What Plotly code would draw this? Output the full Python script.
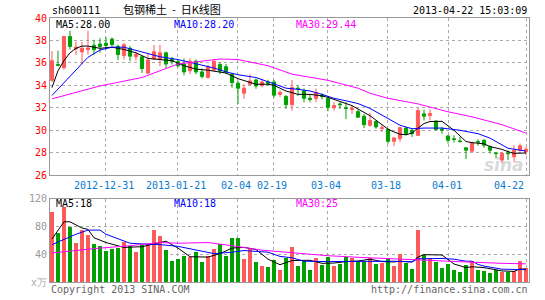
import plotly.graph_objects as go

# ---------------- data ----------------
opens = [34.45, 35.85, 35.57, 38.35, 37.25, 36.98, 37.18, 37.56, 37.68, 37.75,
         38.12, 37.47, 36.65, 37.30, 36.55, 36.54, 35.10, 36.35, 36.36, 36.90,
         36.35, 36.10, 35.90, 35.30, 36.15, 35.20, 34.70, 35.36, 35.86, 35.66,
         34.98, 34.20, 33.31, 34.10, 34.48, 34.00, 34.30, 34.30, 33.20, 33.02,
         32.28, 33.75, 33.50, 32.85, 32.84, 33.13, 32.84, 32.00, 32.35, 32.00,
         31.85, 31.66, 31.25, 30.45, 30.78, 30.15, 30.08, 29.02, 29.26, 30.20,
         29.99, 29.55, 31.46, 31.31, 30.82, 30.10, 29.50, 29.25, 29.05, 28.44,
         28.14, 29.00, 29.11, 28.53, 27.98, 27.35, 27.98, 27.65, 28.23, 28.09]
highs = [37.05, 37.10, 38.40, 38.86, 37.90, 37.86, 38.86, 38.06, 38.20, 38.30,
         38.27, 37.62, 37.77, 37.50, 37.00, 36.60, 36.90, 37.60, 37.60, 37.00,
         36.55, 36.30, 36.40, 36.40, 36.30, 35.50, 35.80, 36.35, 36.07, 35.90,
         35.10, 34.40, 34.10, 35.00, 34.60, 34.60, 34.50, 34.50, 33.55, 33.13,
         34.48, 34.00, 33.72, 33.20, 33.72, 33.30, 32.93, 32.50, 32.50, 32.50,
         32.20, 31.85, 31.46, 31.55, 30.87, 30.50, 30.14, 29.40, 30.29, 30.29,
         30.14, 31.99, 31.84, 31.84, 30.87, 30.29, 29.55, 29.55, 29.40, 28.50,
         28.97, 29.20, 29.20, 28.67, 28.03, 28.09, 28.23, 28.67, 28.82, 28.53]
lows = [34.30, 35.70, 35.40, 37.20, 36.70, 35.90, 36.75, 36.74, 36.90, 37.20,
        37.47, 36.24, 36.30, 36.15, 36.20, 35.10, 35.00, 36.30, 35.70, 35.55,
        35.85, 35.60, 34.90, 35.00, 35.00, 34.60, 34.60, 35.30, 35.00, 35.00,
        33.80, 32.35, 32.80, 33.95, 33.70, 33.80, 34.00, 32.93, 32.95, 31.90,
        31.75, 33.07, 32.50, 32.50, 32.50, 32.75, 31.70, 31.75, 31.90, 31.00,
        31.45, 31.10, 30.20, 30.30, 30.14, 29.85, 28.80, 28.60, 28.97, 29.55,
        29.40, 29.50, 30.87, 30.87, 29.97, 29.70, 28.82, 28.90, 28.90, 27.44,
        28.09, 28.62, 28.44, 27.94, 27.50, 27.06, 27.35, 27.20, 28.09, 27.79]
closes = [36.20, 35.80, 38.35, 37.47, 37.40, 37.30, 37.33, 37.18, 37.47, 37.56,
          37.63, 36.74, 37.62, 36.60, 36.75, 35.50, 36.25, 37.00, 36.90, 35.90,
          36.15, 35.75, 35.20, 36.15, 35.20, 34.80, 35.65, 36.15, 35.27, 35.20,
          34.25, 33.75, 33.75, 34.40, 33.95, 34.30, 34.20, 33.13, 33.37, 32.28,
          33.81, 33.70, 32.85, 32.75, 33.37, 33.00, 32.05, 32.20, 32.28, 31.95,
          31.95, 31.17, 30.50, 30.87, 30.30, 30.22, 29.02, 29.32, 30.23, 29.70,
          29.70, 31.75, 31.26, 31.50, 30.08, 30.02, 29.11, 29.18, 29.00, 28.23,
          28.90, 28.95, 28.67, 28.23, 27.93, 27.94, 27.92, 28.23, 28.62, 28.32]
volumes = [101, 71, 108, 80, 57, 75, 68.6, 55.7, 51.4, 45,
           47.6, 49, 58.6, 52, 44, 53.8, 55.7, 74.7, 66, 46,
           30, 33, 38, 36.7, 43, 28.6, 38, 47.6, 54.8, 38,
           63.3, 63.3, 33.3, 49, 28.6, 23.8, 21.4, 31.9, 17.6, 34.8,
           50, 23.8, 31, 17.6, 34.8, 25.2, 36.7, 22.9, 26.2, 36.7,
           34.8, 31, 28.6, 34.3, 26.2, 27, 34.3, 22.9, 40.5, 27.6,
           19, 74.8, 39, 34.3, 28.6, 20.5, 26.2, 17.6, 14.3, 25.2,
           31, 17.6, 15.7, 12.9, 17.6, 14.3, 14.3, 15.7, 30, 20.5]

# moving-average lines, read at sample candles (index, value)
ma5_idx = [0, 1, 2, 3, 4, 5, 6, 8, 10, 12, 14, 16, 18, 20, 22, 24, 26, 29, 31, 34,
           36, 37, 39, 41, 43, 45, 46, 48, 50, 52, 53, 54, 55, 56, 57, 58, 59, 60,
           61, 62, 63, 65, 66, 67, 68, 69, 70, 72, 73, 74, 75, 76, 77, 79]
ma5_val = [33.8, 35.3, 36.2, 36.9, 37.3, 37.5, 37.5, 37.3, 37.4, 37.2, 36.9, 36.4,
           36.3, 36.2, 35.75, 35.45, 35.35, 35.1, 34.6, 34.1, 34.1, 34.0, 33.5,
           33.2, 33.2, 33.07, 32.93, 32.6, 32.2, 31.6, 31.3, 30.9, 30.5, 30.1,
           29.85, 29.65, 29.6, 29.75, 30.2, 30.6, 30.78, 30.8, 30.4, 30.0, 29.5,
           29.0, 28.9, 28.8, 28.55, 28.45, 28.3, 28.1, 27.95, 27.98]
ma10_idx = [0, 3, 5, 6, 8, 10, 12, 14, 16, 18, 21, 24, 27, 29, 31, 34, 36, 39, 41,
            43, 45, 47, 49, 51, 53, 55, 58, 60, 62, 65, 68, 71, 73, 76, 78, 79]
ma10_val = [33.1, 34.8, 36.0, 36.5, 37.15, 37.4, 37.4, 37.1, 36.8, 36.55, 36.3,
            35.9, 35.55, 35.2, 34.95, 34.7, 34.3, 33.75, 33.65, 33.5, 33.2, 32.85,
            32.63, 32.38, 31.95, 31.35, 30.45, 30.14, 30.2, 30.2, 30.0, 29.7, 29.3,
            28.4, 28.2, 28.15]
ma30_idx = [0, 8, 15, 21, 28, 31, 36, 40, 46, 51, 53, 56, 61, 66, 70, 75, 79]
ma30_val = [32.8, 33.95, 34.7, 35.9, 36.35, 36.3, 35.75, 35.0, 34.45, 33.75, 33.3,
            32.85, 32.35, 31.65, 31.2, 30.5, 29.75]

vma5_idx = [0, 2, 3, 5, 6, 7, 9, 12, 15, 17, 19, 21, 23, 26, 28, 30, 32, 34, 36,
            38, 40, 43, 45, 47, 49, 51, 53, 55, 57, 58, 60, 61, 62, 65, 67, 69,
            70, 72, 75, 77, 78, 79]
vma5_val = [62, 87, 87, 78, 76, 64, 57, 50, 51, 55, 59, 49, 36.5, 36, 41, 49, 50,
            47, 33, 25, 31, 31.4, 27, 27.4, 29.5, 30.3, 33, 29.5, 29, 30, 29, 36,
            39.5, 39, 26, 20.8, 22, 20.8, 16, 15.3, 18.8, 18.6]
vma10_idx = [0, 2, 4, 6, 8, 9, 11, 13, 15, 18, 21, 25, 27, 30, 32, 36, 38, 40, 42,
             46, 51, 55, 57, 60, 61, 65, 67, 69, 70, 71, 72, 75, 78, 79]
vma10_val = [54, 62, 69, 75, 75, 69, 63, 56, 55, 54, 51.5, 45, 41, 43, 45.5, 43,
             37, 35, 30, 29.5, 29.5, 30.5, 30, 29, 33.5, 34, 33, 30, 30, 25.4, 23,
             18.5, 18, 17.8]
vma30_idx = [0, 3, 8, 13, 18, 21, 26, 30, 32, 35, 38, 42, 46, 51, 57, 62, 70, 75, 79]
vma30_val = [42, 45, 49, 52.4, 57, 56, 57, 52.4, 50, 46, 43.8, 40.5, 38, 35.7, 33.3,
             31, 28.6, 27, 26.2]

date_pos = [9, 21, 31, 37, 46, 56, 66, 79]
date_labels = ["2012-12-31", "2013-01-21", "02-04", "02-19", "03-04", "03-18",
               "04-01", "04-22"]
price_ticks = [26, 28, 30, 32, 34, 36, 38, 40]
vol_ticks = [40, 80, 120]

# ---------------- styling ----------------
RED = "#FF5A5A"
GREEN = "#00A000"
MONO = "DejaVu Sans Mono"
GRID = "#AAAAAA"
BORDER = "#999999"
W, H = 545, 300
L, R, T, B = 50, 16, 18, 15
PW, PH = W - L - R, H - T - B


def px(xp):
    return (xp - L) / PW


def py(yp):
    return (H - B - yp) / PH


x = list(range(len(opens)))
vcolors = [RED if c >= o else GREEN for o, c in zip(opens, closes)]

fig = go.Figure()
fig.add_trace(go.Candlestick(
    x=x, open=opens, high=highs, low=lows, close=closes,
    increasing=dict(line=dict(color=RED, width=1), fillcolor=RED),
    decreasing=dict(line=dict(color=GREEN, width=1), fillcolor=GREEN),
    whiskerwidth=0, xaxis="x", yaxis="y", hoverinfo="skip"))
for xs, ys, col in [(ma5_idx, ma5_val, "#000000"), (ma10_idx, ma10_val, "#0000FF"),
                    (ma30_idx, ma30_val, "#FF00FF")]:
    fig.add_trace(go.Scatter(x=xs, y=ys, mode="lines", line=dict(color=col, width=1),
                             xaxis="x", yaxis="y", hoverinfo="skip"))

fig.add_trace(go.Bar(x=x, y=volumes, marker=dict(color=vcolors, line=dict(width=0)),
                     width=0.8, xaxis="x2", yaxis="y2", hoverinfo="skip"))
for xs, ys, col in [(vma5_idx, vma5_val, "#000000"), (vma10_idx, vma10_val, "#0000FF"),
                    (vma30_idx, vma30_val, "#FF00FF")]:
    fig.add_trace(go.Scatter(x=xs, y=ys, mode="lines", line=dict(color=col, width=1),
                             xaxis="x2", yaxis="y2", hoverinfo="skip"))

main_dom = [py(177), 1.0]
vol_dom = [0.0, py(201)]
xr = [-0.33, len(x) - 0.5]

common_x = dict(range=xr, tickvals=date_pos, showticklabels=False, ticks="",
                showgrid=True, gridcolor=GRID, griddash="dot", gridwidth=1,
                showline=True, mirror=True, linecolor=BORDER, linewidth=1,
                zeroline=False, fixedrange=True)
fig.update_layout(
    width=W, height=H, margin=dict(l=L, r=R, t=T, b=B),
    paper_bgcolor="white", plot_bgcolor="white", showlegend=False,
    boxgap=0.25, bargap=0,
    xaxis=dict(common_x, domain=[0, 1], anchor="y", rangeslider=dict(visible=False)),
    xaxis2=dict(common_x, domain=[0, 1], anchor="y2", matches="x"),
    yaxis=dict(domain=main_dom, range=[26, 40], tickvals=price_ticks, ticks="",
               tickfont=dict(family=MONO, size=10, color="#FF0000"),
               showgrid=True, gridcolor=GRID, griddash="dot", zeroline=False,
               showline=True, mirror=True, linecolor=BORDER, linewidth=1),
    yaxis2=dict(domain=vol_dom, range=[0, 120], tickvals=vol_ticks, ticks="",
                tickfont=dict(family=MONO, size=10, color="#999999"),
                showgrid=True, gridcolor=GRID, griddash="dot", zeroline=False,
                showline=True, mirror=True, linecolor=BORDER, linewidth=1),
    font=dict(family=MONO, size=10),
)

ann = []
# date labels under main panel
for pos, lab in zip(date_pos, date_labels):
    last = pos == date_pos[-1]
    ann.append(dict(x=pos - (0.05 if last else 0.25), y=py(187), xref="x", yref="paper",
                    text=lab, showarrow=False, xanchor="right" if last else "center",
                    yanchor="middle", font=dict(family=MONO, size=10, color="#0A7BD0")))


def txt(t, xp, yp, anchor="left", color="#000000", size=10, family=MONO):
    ann.append(dict(x=px(xp), y=py(yp), xref="paper", yref="paper", text=t,
                    showarrow=False, xanchor=anchor, yanchor="middle",
                    font=dict(family=family, size=size, color=color)))


txt("sh600111", 50, 10)
txt("包钢稀土&nbsp;&nbsp;-&nbsp;&nbsp;日K线图", 121, 9, family="Noto Sans CJK SC", size=11)
txt("2013-04-22 15:03:09", 529, 10, anchor="right")
txt("MA5:28.00", 54, 24.5)
txt("MA10:28.20", 172, 24.5, color="#0000FF")
txt("MA30:29.44", 294, 24.5, color="#FF00FF")
txt("MA5:18", 54, 206)
txt("MA10:18", 172, 206, color="#0000FF")
txt("MA30:25", 294, 206, color="#FF00FF")
txt("x万", 29, 286, color="#AAAAAA")
txt("Copyright 2013 SINA.COM", 49, 292.5, color="#666666")
txt("http://finance.sina.com.cn", 530, 292.5, anchor="right", color="#666666")
txt("<i><b>sina</b></i>", 526, 167, anchor="right", color="rgba(170,170,170,0.45)",
    size=17, family="DejaVu Sans")
fig.update_layout(annotations=ann)

fig.write_html("out.html")
